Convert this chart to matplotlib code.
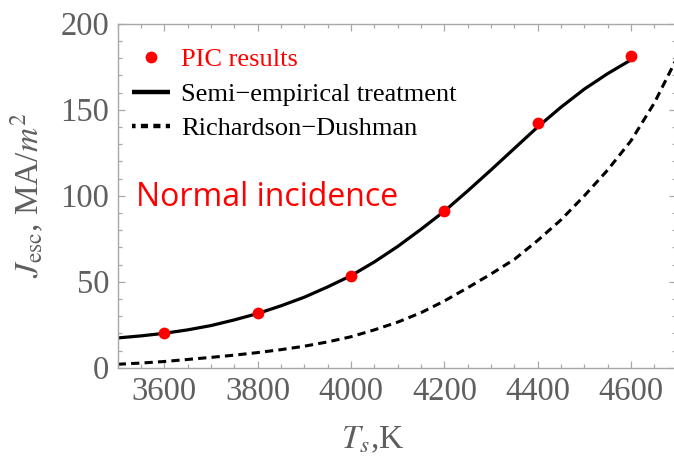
import matplotlib
matplotlib.use("Agg")
import matplotlib.pyplot as plt
from matplotlib.ticker import MultipleLocator

# Data
pic_T = [3600, 3800, 4000, 4200, 4400, 4600]
pic_J = [20.0, 31.6, 53.5, 91.0, 142.0, 181.0]

semi_T = [3500, 3550, 3600, 3650, 3700, 3750, 3800, 3850, 3900, 3950, 4000,
          4050, 4100, 4150, 4200, 4250, 4300, 4350, 4400, 4450, 4500, 4550, 4600]
semi_J = [17.3, 18.5, 20.0, 22.0, 24.5, 27.8, 31.5, 36.0, 41.0, 47.0, 53.5,
          61.5, 70.5, 80.5, 91.0, 102.8, 115.0, 127.5, 140.0, 151.5, 162.0, 171.0, 179.0]

rd_T = [3500, 3550, 3600, 3650, 3700, 3750, 3800, 3850, 3900, 3950, 4000,
        4050, 4100, 4150, 4200, 4250, 4300, 4350, 4400, 4450, 4500, 4550, 4600, 4650, 4700]
rd_J = [2.0, 2.7, 3.6, 4.8, 6.0, 7.3, 8.8, 10.5, 12.5, 15.0, 18.0,
        22.0, 26.5, 32.0, 38.8, 46.5, 54.5, 63.0, 74.0, 86.0, 100.0, 115.0, 132.0, 154.0, 181.0]

labels = ["PIC results", "Semi\u2212empirical treatment", "Richardson\u2212Dushman"]
annotation = "Normal incidence"

plt.rcParams["mathtext.fontset"] = "stix"
serif = ["Liberation Serif", "DejaVu Serif"]
gray = "#5f5f5f"
spine_gray = "#a8a8a8"

fig = plt.figure(figsize=(6.74, 4.57), dpi=100)
ax = fig.add_axes([117.7 / 674, (457 - 367.7) / 457, (675.5 - 117.7) / 674, (367.7 - 23.7) / 457])

ax.plot(semi_T, semi_J, color="black", lw=2.3, solid_capstyle="butt", solid_joinstyle="round",
        label=labels[1], zorder=2)
ax.plot(rd_T, rd_J, color="black", lw=2.2, linestyle=(0, (2.7, 1.7)), label=labels[2], zorder=2)
ax.plot(pic_T, pic_J, "o", color="red", ms=8.5, mec="none", label=labels[0], zorder=3)

ax.set_xlim(3500, 3500 + (675.5 - 117.7) / 0.4667)
ax.set_ylim(0, 200)

ax.xaxis.set_major_locator(MultipleLocator(200))
ax.xaxis.set_minor_locator(MultipleLocator(50))
ax.yaxis.set_major_locator(MultipleLocator(50))
ax.yaxis.set_minor_locator(MultipleLocator(10))

for s in ax.spines.values():
    s.set_color(spine_gray)
    s.set_linewidth(1.0)

ax.tick_params(which="both", direction="in", top=True, right=True, color=spine_gray, width=0.9)
ax.tick_params(which="major", length=5, labelsize=23.5, labelcolor=gray, pad=6)
ax.tick_params(which="minor", length=3)
for lab in ax.get_xticklabels() + ax.get_yticklabels():
    lab.set_fontfamily(serif)

ax.set_xlabel(r"$T_s$,K", fontsize=24, color=gray, family=serif)
ax.set_ylabel(r"$J_{\rm esc}$, MA/$m^2$", fontsize=24, color=gray, family=serif)
ax.xaxis.set_label_coords((373 - 117.7) / (675.5 - 117.7), (367.7 - 440) / 344)
ax.xaxis.label.set_va("center")
ax.yaxis.set_label_coords((27.5 - 117.7) / (675.5 - 117.7), 0.5)
ax.yaxis.label.set_va("center")

ax.text(3540, 94, annotation, color="red", fontsize=23, family=["Open Sans", "DejaVu Sans"],
        ha="left", va="baseline")

h, l = ax.get_legend_handles_labels()
order = [2, 0, 1]
leg = ax.legend([h[i] for i in order], [l[i] for i in order], loc="upper left",
                bbox_to_anchor=(0.006, 0.96), frameon=False,
                prop={"family": serif, "size": 19}, labelcolor=["red", "black", "black"],
                handlelength=1.45, handletextpad=0.42, labelspacing=0.41, borderaxespad=0.0,
                markerscale=1.0)
for line in leg.get_lines():
    if line.get_linestyle() == "-":
        line.set_linewidth(3.2)
    elif line.get_linestyle() == "--":
        line.set_linewidth(3.2)
        line.set_linestyle((0.8, (1.6, 1.2)))

fig.savefig("out.png", dpi=100)
